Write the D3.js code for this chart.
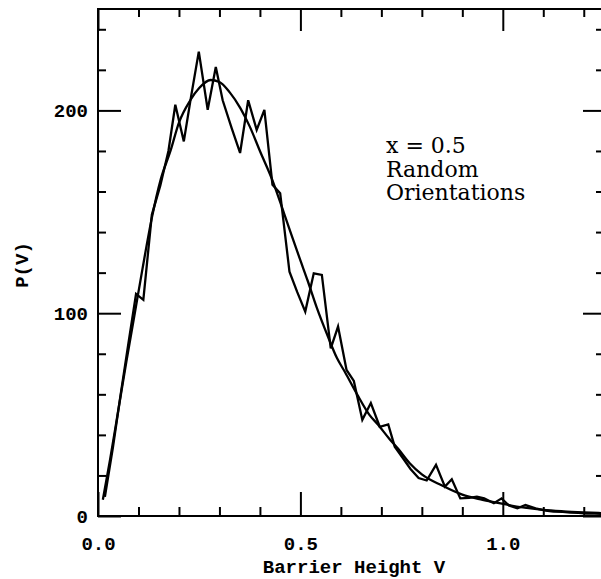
<!DOCTYPE html>
<html>
<head>
<meta charset="utf-8">
<script src="https://cdn.jsdelivr.net/npm/d3@7"></script>
<style>
  body { margin: 0; background: #fff; }
  .tick text { font-family: "Liberation Mono", monospace; font-weight: bold; font-size: 19px; fill: #000; }
</style>
</head>
<body>
<div id="plot"></div>
<script>
// histogram of barrier heights
var histV = [0.017, 0.037, 0.056, 0.075, 0.094, 0.112, 0.133, 0.154, 0.174, 0.191,
             0.212, 0.230, 0.249, 0.271, 0.291, 0.308, 0.330, 0.351, 0.371, 0.392,
             0.411, 0.431, 0.450, 0.473, 0.492, 0.512, 0.533, 0.553, 0.575, 0.593,
             0.614, 0.632, 0.653, 0.674, 0.696, 0.717, 0.733, 0.753, 0.772, 0.792,
             0.812, 0.835, 0.857, 0.874, 0.895, 0.917, 0.936, 0.954, 0.978, 0.997,
             1.015, 1.036, 1.056, 1.081, 1.106, 1.125, 1.148, 1.167, 1.187, 1.207,
             1.227, 1.247];
var histP = [9.4, 34, 60, 85, 109.5, 106.6, 148.5, 163, 180, 202.8,
             184.7, 206.9, 229, 200.3, 221.4, 205, 191.4, 179, 205, 190.4,
             200.3, 163.3, 159.2, 120.5, 110.5, 100.8, 119.7, 118.9, 82.7, 93.4,
             72, 66.6, 47.4, 55.7, 44, 45.2, 34.2, 28.6, 23.2, 18.7,
             17.5, 25.2, 14.5, 18.1, 8.7, 8.9, 9.5, 8.7, 6.3, 8.7,
             5.2, 3.8, 5.4, 3.8, 2.6, 2.2, 2, 1.7, 1.5, 1.2,
             1.2, 1];

// smooth fitted curve
var fitV = [0.012, 0.03, 0.05, 0.07, 0.09, 0.11, 0.133, 0.155, 0.179, 0.2,
            0.228, 0.25, 0.278, 0.3, 0.325, 0.352, 0.375, 0.4, 0.43, 0.46,
            0.5, 0.518, 0.54, 0.568, 0.59, 0.61, 0.64, 0.67, 0.692, 0.72,
            0.742, 0.77, 0.8, 0.85, 0.9, 0.95, 1.0, 1.05, 1.1, 1.15, 1.2, 1.25];
var fitP = [8, 28, 52, 76, 99, 122, 147, 166, 180, 194,
            205, 211, 215, 214, 209, 201, 192, 180, 166, 149,
            126, 116, 103, 88.5, 78, 71, 60, 50, 45, 38,
            33, 26, 20.5, 15, 10.5, 8, 6, 4.2, 3, 2.3, 1.8, 1.4];

var xMajor = [0, 0.5, 1.0];
var xMinor = [0.1, 0.2, 0.3, 0.4, 0.6, 0.7, 0.8, 0.9, 1.1, 1.2];
var xTickLabels = ["0.0", "0.5", "1.0"];
var yMajor = [0, 100, 200];
var yMinor = [20, 40, 60, 80, 120, 140, 160, 180, 220, 240];
var yTickLabels = ["0", "100", "200"];
var noteLines = ["x = 0.5", "Random", "Orientations"];

var margin = {top: 9, right: 0, bottom: 63, left: 98},
    width = 601 - margin.left - margin.right + 3,
    height = 579 - margin.top - margin.bottom;

var svg = d3.select("#plot")
  .append("svg")
    .attr("width", 601)
    .attr("height", 579)
  .append("g")
    .attr("transform", "translate(" + margin.left + "," + margin.top + ")");

var x = d3.scaleLinear().domain([0, 1.25]).range([0, width]);
var y = d3.scaleLinear().domain([0, 250]).range([height, 0]);

// ticks, all pointing inward
function ticks(axis, vals, size, labels, pad) {
  var g = svg.append("g").call(axis.tickValues(vals).tickSize(-size)
    .tickPadding(pad || 0)
    .tickFormat(labels ? function(d, i) { return labels[i]; } : ""));
  g.select(".domain").remove();
  g.selectAll("line").attr("stroke", "#000").attr("stroke-width", 2);
  return g;
}
ticks(d3.axisBottom(x), xMajor, 24, xTickLabels, 21).attr("transform", "translate(0," + height + ")");
ticks(d3.axisBottom(x), xMinor, 9).attr("transform", "translate(0," + height + ")");
ticks(d3.axisTop(x), xMajor, 22);
ticks(d3.axisTop(x), xMinor, 8);
ticks(d3.axisLeft(y), yMajor, 23, yTickLabels, 10);
ticks(d3.axisLeft(y), yMinor, 8);
ticks(d3.axisRight(y), yMajor, 21).attr("transform", "translate(" + width + ",0)");
ticks(d3.axisRight(y), yMinor, 8).attr("transform", "translate(" + width + ",0)");

// frame
svg.append("rect")
  .attr("x", 0).attr("y", 0)
  .attr("width", width).attr("height", height)
  .attr("fill", "none").attr("stroke", "#000").attr("stroke-width", 2);

var line = d3.line()
  .x(function(d) { return x(d[0]); })
  .y(function(d) { return y(d[1]); });

svg.append("path")
  .datum(fitV.map(function(v, i) { return [v, fitP[i]]; }))
  .attr("d", line.curve(d3.curveMonotoneX))
  .attr("fill", "none").attr("stroke", "#000").attr("stroke-width", 2.3);

svg.append("path")
  .datum(histV.map(function(v, i) { return [v, histP[i]]; }))
  .attr("d", line.curve(d3.curveLinear))
  .attr("fill", "none").attr("stroke", "#000").attr("stroke-width", 2.3)
  .attr("stroke-linejoin", "miter");

// annotation
svg.append("g").selectAll("text")
  .data(noteLines)
  .enter()
  .append("text")
    .attr("x", 288)
    .attr("y", function(d, i) { return 144 + i * 23.5; })
    .style("font-family", "'DejaVu Serif', serif")
    .style("font-size", "22px")
    .text(function(d) { return d; });

// axis titles
svg.append("text")
  .attr("x", 256)
  .attr("y", height + 57)
  .attr("text-anchor", "middle")
  .style("font-family", "'Liberation Mono', monospace")
  .style("font-weight", "bold")
  .style("font-size", "19px")
  .text("Barrier Height V");

svg.append("text")
  .attr("transform", "translate(" + (-70) + "," + 256 + ") rotate(-90)")
  .attr("text-anchor", "middle")
  .style("font-family", "'Liberation Mono', monospace")
  .style("font-weight", "bold")
  .style("font-size", "19px")
  .text("P(V)");
</script>
</body>
</html>
